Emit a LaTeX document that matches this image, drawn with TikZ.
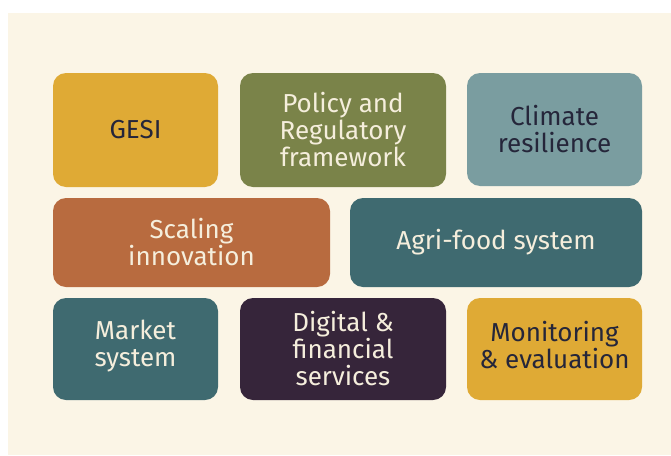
\documentclass[tikz,border=0pt]{standalone}
\usepackage{fontspec}
\setmainfont{Fira Sans}
\begin{document}
\definecolor{paper}{HTML}{FBF5E6}
\definecolor{gold}{HTML}{DFAA35}
\definecolor{olive}{HTML}{7A8349}
\definecolor{slate}{HTML}{7A9DA0}
\definecolor{clay}{HTML}{B86B3F}
\definecolor{teal}{HTML}{3F6A70}
\definecolor{plum}{HTML}{36253A}
\definecolor{ink}{HTML}{25263A}
\definecolor{cream}{HTML}{F5EEDC}
\begin{tikzpicture}[x=1pt,y=-1pt,
  tile/.style={rounded corners=13pt, inner sep=0pt, align=center,
    font=\fontsize{26}{27}\selectfont},
  caption/.style={inner sep=0pt, align=center, font=\fontsize{26}{27}\selectfont},
  darktext/.style={text=ink},
  lighttext/.style={text=cream}]
  % page and backdrop
  \fill[white] (0,0) rectangle (671,455);
  \useasboundingbox (0,0) rectangle (671,455);
  \fill[paper] (8,13) rectangle (671,455);
  % first row
  \node[tile, darktext, fill=gold, minimum width=165pt, minimum height=114pt] (gesi) at (135.5,130) {GESI};
  \node[tile, lighttext, fill=olive, minimum width=206pt, minimum height=114pt] (policy) at (343,130) {Policy and\\Regulatory\\framework};
  \node[tile, darktext, fill=slate, minimum width=175pt, minimum height=113pt] (climate) at (554.5,129.5) {Climate\\resilience};
  % second row
  \node[tile, lighttext, fill=clay, minimum width=277pt, minimum height=89pt] (scaling) at (191.5,242.5) {Scaling\\innovation};
  \node[tile, lighttext, fill=teal, minimum width=292pt, minimum height=89pt] (agri) at (496,242.5) {Agri-food system};
  % third row (two captions sit a little above their tile's centre)
  \node[tile, fill=teal, minimum width=165pt, minimum height=102pt] (market) at (135.5,349) {};
  \node[caption, lighttext] (markettext) at ([yshift=3pt]market.center) {Market\\system};
  \node[tile, lighttext, fill=plum, minimum width=206pt, minimum height=102pt] (digital) at (343,349) {Digital \&\\financial\\services};
  \node[tile, fill=gold, minimum width=175pt, minimum height=102pt] (monitor) at (554.5,349) {};
  \node[caption, darktext] (monitortext) at ([yshift=4pt]monitor.center) {Monitoring\\\& evaluation};
\end{tikzpicture}
\end{document}
